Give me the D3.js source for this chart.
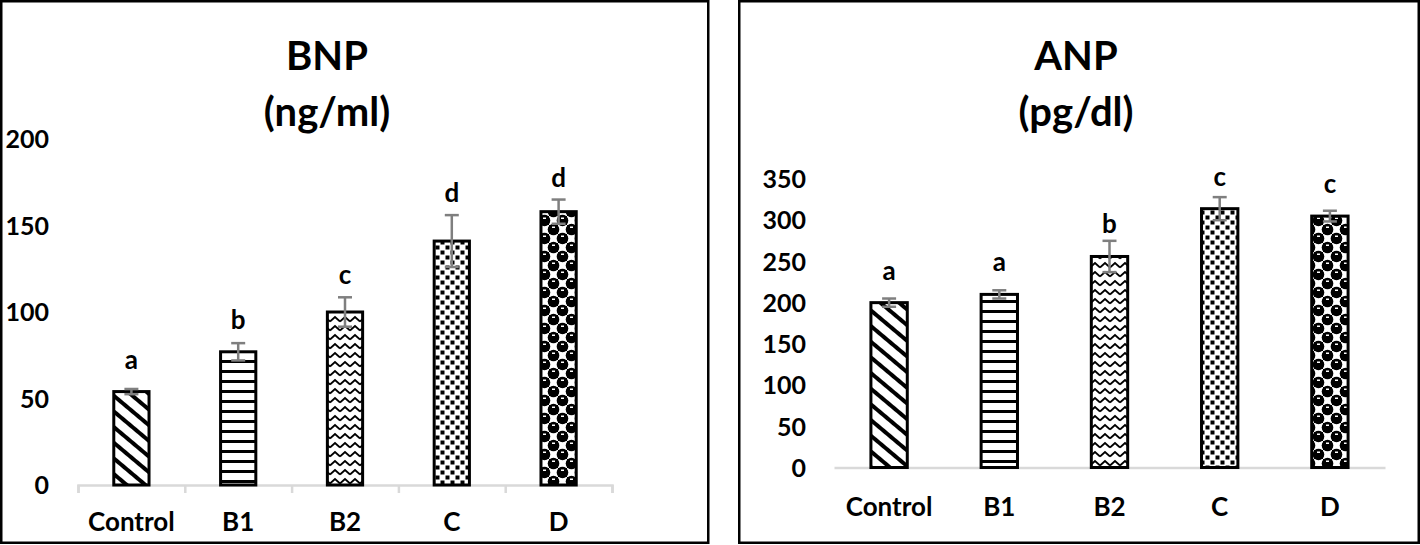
<!DOCTYPE html>
<html>
<head>
<meta charset="utf-8">
<script src="https://cdn.jsdelivr.net/npm/d3@7"></script>
<style>
  body { margin: 0; background: #fff; }
  text { font-family: Lato, "Open Sans", sans-serif; font-weight: bold; fill: #000; }
</style>
</head>
<body>
<div id="grafico"></div>
<script>
const categorias = ["Control", "B1", "B2", "C", "D"];

const bnpValores = [54, 77, 100, 141, 158];
const bnpErrores = [1.5, 5, 8.5, 15, 7];
const bnpLetras = ["a", "b", "c", "d", "d"];
const bnpTicks = [0, 50, 100, 150, 200];

const anpValores = [200, 210, 256, 314, 305];
const anpErrores = [5, 5, 19, 14, 6.5];
const anpLetras = ["a", "a", "b", "c", "c"];
const anpTicks = [0, 50, 100, 150, 200, 250, 300, 350];

const patrones = ["diag", "horiz", "zigzag", "cuadros", "bolas"];

const svg = d3.select("#grafico")
	.append("svg")
	.attr("width", 1420)
	.attr("height", 545);

// patrones de relleno (como los de Excel)
const defs = svg.append("defs");

const pDiag = defs.append("pattern").attr("id", "diag")
	.attr("patternUnits", "userSpaceOnUse")
	.attr("width", 12).attr("height", 12)
	.attr("patternTransform", "rotate(40)");
pDiag.append("rect").attr("width", 12).attr("height", 12).attr("fill", "#fff");
pDiag.append("rect").attr("y", 0).attr("width", 12).attr("height", 4).attr("fill", "#000");

const pHoriz = defs.append("pattern").attr("id", "horiz")
	.attr("patternUnits", "userSpaceOnUse")
	.attr("width", 10).attr("height", 10);
pHoriz.append("rect").attr("width", 10).attr("height", 10).attr("fill", "#fff");
pHoriz.append("rect").attr("y", 0).attr("width", 10).attr("height", 3).attr("fill", "#000");

const pZig = defs.append("pattern").attr("id", "zigzag")
	.attr("patternUnits", "userSpaceOnUse")
	.attr("width", 10).attr("height", 9);
pZig.append("rect").attr("width", 10).attr("height", 9).attr("fill", "#fff");
pZig.append("path").attr("d", "M0,6.5 L5,2 L10,6.5")
	.attr("fill", "none").attr("stroke", "#000").attr("stroke-width", 1.7);

const pCuad = defs.append("pattern").attr("id", "cuadros")
	.attr("patternUnits", "userSpaceOnUse")
	.attr("width", 10).attr("height", 10);
pCuad.append("rect").attr("width", 10).attr("height", 10).attr("fill", "#fff");
pCuad.append("rect").attr("x", 0.5).attr("y", 0.5).attr("width", 4).attr("height", 4).attr("fill", "#000");
pCuad.append("rect").attr("x", 5.5).attr("y", 5.5).attr("width", 4).attr("height", 4).attr("fill", "#000");

// tablero con celdas negras redondeadas
const pBolas = defs.append("pattern").attr("id", "bolas")
	.attr("patternUnits", "userSpaceOnUse")
	.attr("width", 18).attr("height", 18);
pBolas.append("rect").attr("width", 18).attr("height", 18).attr("fill", "#fff");
pBolas.append("rect").attr("x", 0).attr("y", 0).attr("width", 9).attr("height", 9).attr("fill", "#000");
pBolas.append("rect").attr("x", 9).attr("y", 9).attr("width", 9).attr("height", 9).attr("fill", "#000");
[[4.5, 4.5], [13.5, 13.5], [-4.5, -4.5], [22.5, 22.5], [-4.5, 13.5], [13.5, -4.5], [22.5, 4.5], [4.5, 22.5]].forEach(c => {
	pBolas.append("circle").attr("cx", c[0]).attr("cy", c[1]).attr("r", 5.8).attr("fill", "#000");
	pBolas.append("rect").attr("x", c[0] - 1.5).attr("y", c[1] - 3).attr("width", 3).attr("height", 1.5).attr("fill", "#fff");
});

function crearPanel(cfg) {
	const g = svg.append("g");

	// marco
	g.append("rect")
		.attr("x", cfg.marco[0]).attr("y", cfg.marco[1])
		.attr("width", cfg.marco[2]).attr("height", cfg.marco[3])
		.attr("fill", "none").attr("stroke", "#000").attr("stroke-width", 2.5);

	// titulo
	g.append("text").attr("x", cfg.tituloX).attr("y", 70)
		.attr("text-anchor", "middle").style("font-size", "40px").text(cfg.titulo[0]);
	g.append("text").attr("x", cfg.tituloX).attr("y", 126)
		.attr("text-anchor", "middle").style("font-size", "40px").text(cfg.titulo[1]);

	const xScale = d3.scaleBand()
		.domain(categorias)
		.range([cfg.x0, cfg.x1])
		.padding(0);

	const yScale = d3.scaleLinear()
		.domain([0, cfg.ticks[cfg.ticks.length - 1]])
		.range([cfg.y0, cfg.yTop]);

	// eje Y (solo etiquetas)
	const yAxis = d3.axisLeft(yScale).tickValues(cfg.ticks).tickSize(0).tickPadding(cfg.yPad);
	const gy = g.append("g")
		.attr("transform", "translate(" + cfg.x0 + ",0)")
		.call(yAxis);
	gy.select(".domain").remove();
	gy.selectAll("text").style("font-size", "25px").attr("dy", "0.35em");

	// eje X
	const xLinea = d3.scaleLinear().domain([0, categorias.length]).range([cfg.x0, cfg.x1]);
	const gLinea = g.append("g")
		.attr("transform", "translate(0," + cfg.y0 + ")")
		.call(d3.axisBottom(xLinea).ticks(categorias.length).tickFormat("").tickSize(cfg.marcas ? 8 : 0).tickSizeOuter(cfg.marcas ? 8 : 0));
	gLinea.selectAll("path, line").attr("stroke", "#d9d9d9").attr("stroke-width", 2.5);

	const bw = xScale.bandwidth() * 0.33;
	const datos = categorias.map((c, i) => ({
		cat: c, valor: cfg.valores[i], error: cfg.errores[i], letra: cfg.letras[i], patron: patrones[i]
	}));

	g.selectAll("rect.barra")
		.data(datos)
		.enter()
		.append("rect")
		.attr("class", "barra")
		.attr("x", d => xScale(d.cat) + xScale.bandwidth() / 2 - bw / 2)
		.attr("y", d => yScale(d.valor))
		.attr("width", bw)
		.attr("height", d => cfg.y0 - yScale(d.valor))
		.attr("fill", d => "url(#" + d.patron + ")")
		.attr("stroke", "#000")
		.attr("stroke-width", 3);

	// barras de error
	const err = g.selectAll("g.error").data(datos).enter().append("g")
		.attr("class", "error")
		.attr("transform", d => "translate(" + (xScale(d.cat) + xScale.bandwidth() / 2) + ",0)");
	err.append("line")
		.attr("y1", d => yScale(d.valor - d.error)).attr("y2", d => yScale(d.valor + d.error))
		.attr("stroke", "#7f7f7f").attr("stroke-width", 2.5);
	err.append("line").attr("x1", -7).attr("x2", 7)
		.attr("y1", d => yScale(d.valor + d.error)).attr("y2", d => yScale(d.valor + d.error))
		.attr("stroke", "#7f7f7f").attr("stroke-width", 2.5);
	err.append("line").attr("x1", -7).attr("x2", 7)
		.attr("y1", d => yScale(d.valor - d.error)).attr("y2", d => yScale(d.valor - d.error))
		.attr("stroke", "#7f7f7f").attr("stroke-width", 2.5);

	// letras de significancia
	g.selectAll("text.letra")
		.data(datos)
		.enter()
		.append("text")
		.attr("class", "letra")
		.attr("x", d => xScale(d.cat) + xScale.bandwidth() / 2)
		.attr("y", d => {
			const arriba = yScale(d.valor) - 23;
			return cfg.evitarError ? Math.min(arriba, yScale(d.valor + d.error) - 13) : arriba;
		})
		.attr("text-anchor", "middle")
		.style("font-size", "26px")
		.text(d => d.letra);

	// etiquetas de categorias
	g.selectAll("text.cat")
		.data(categorias)
		.enter()
		.append("text")
		.attr("class", "cat")
		.attr("x", d => xScale(d) + xScale.bandwidth() / 2)
		.attr("y", cfg.catY)
		.attr("text-anchor", "middle")
		.style("font-size", "26px")
		.text(d => d);
}

crearPanel({
	marco: [1.25, 1.25, 707, 541.5],
	titulo: ["BNP", "(ng/ml)"],
	tituloX: 327,
	x0: 78, x1: 612, y0: 485, yTop: 139,
	ticks: bnpTicks, yPad: 29,
	valores: bnpValores, errores: bnpErrores, letras: bnpLetras,
	marcas: true, evitarError: true, catY: 531
});

crearPanel({
	marco: [739.25, 1.25, 679.5, 541.5],
	titulo: ["ANP", "(pg/dl)"],
	tituloX: 1076,
	x0: 834, x1: 1385, y0: 467.5, yTop: 179,
	ticks: anpTicks, yPad: 28,
	valores: anpValores, errores: anpErrores, letras: anpLetras,
	marcas: false, evitarError: false, catY: 516
});
</script>
</body>
</html>
